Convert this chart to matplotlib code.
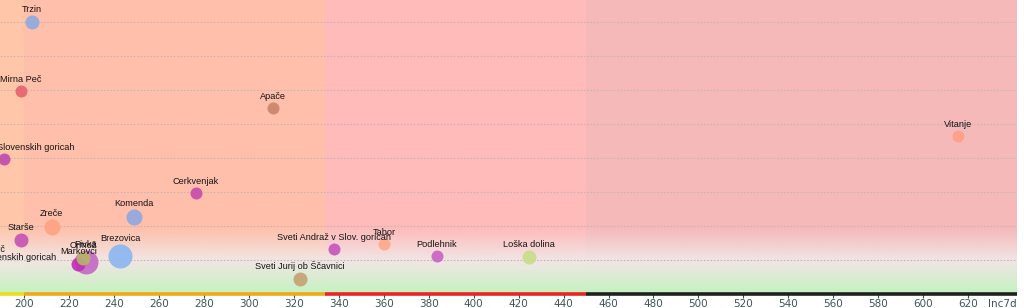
import numpy as np
import matplotlib
matplotlib.use("Agg")
import matplotlib.pyplot as plt
import matplotlib.colors as mcolors
from matplotlib.transforms import blended_transform_factory

# ---- data ----
names = ["Trzin", "Mirna Peč", "Apače", "Sveta Trojica v Slovenskih goricah",
         "Cerkvenjak", "Komenda", "Zreče", "Starše", "Brezovica",
         "Pivka", "Markovci", "Ormož", "Sveti Andraž v Slov. goricah",
         "Tabor", "Podlehnik", "Loška dolina", "Sveti Jurij ob Ščavnici",
         "Vitanje", "Sveti Jurij v Slovenskih goricah", "Zavrč"]
inc7d = [203.5, 198.6, 310.7, 191.0, 276.5, 248.9, 212.4, 198.6, 242.7,
         227.4, 224.2, 226.3, 337.9, 360.1, 383.7, 424.6, 322.8, 615.5, 185.8,
         186.6]
yval = [8.0, 5.97, 5.47, 3.97, 2.97, 2.26, 1.97, 1.59, 1.12,
        0.94, 0.88, 1.06, 1.32, 1.47, 1.12, 1.09, 0.44, 4.65, 0.75, 1.0]
radius_px = [7, 6, 6, 6, 6, 8, 8, 7, 12, 12, 7, 7, 6, 6, 6, 7, 7, 6, 6, 5]
colors = ["#8eaadf", "#e8606e", "#c98468", "#c04aaa", "#c64aac", "#8ea8e0",
          "#ffa283", "#c452b4", "#8ab6f2", "#c468c4", "#c030b4", "#b8b468",
          "#c654bc", "#ffa888", "#c862c4", "#c8dc88", "#c4a272", "#ffa084",
          "#c452b4", "#c452b4"]

xticks = list(range(200, 621, 20))
band_edges = [189.3, 200, 334, 450, 641.7]
band_colors = ["#ffc6aa", "#ffbfaa", "#ffbaba", "#f5b9b9"]
axis_colors = ["#ecdc1c", "#f0a818", "#e82424", "#202020"]

x_min, x_max = 189.3, 641.7
y_min, y_max = 0.0, 8.65

fig = plt.figure(figsize=(10.24, 3.08), dpi=100)
fig.patch.set_facecolor("white")
ax = fig.add_axes([0, 14 / 308, 1017 / 1024, 294 / 308])
ax.set_xlim(x_min, x_max)
ax.set_ylim(y_min, y_max)

# background bands
for i in range(len(band_colors)):
    ax.axvspan(band_edges[i], band_edges[i + 1], color=band_colors[i], lw=0, zorder=0)

# bottom gradient (pink -> near white -> green)
n = 256
top = 2.0
ys = np.linspace(0, top, n)
grad = np.zeros((n, 1, 4))
mid = np.array(mcolors.to_rgb("#f0ecec"))
green = np.array(mcolors.to_rgb("#c2f4be"))
for k, y in enumerate(ys):
    if y < 1.0:
        u = y / 1.0
        c = green * (1 - u) + mid * u
        a = 1.0 - 0.12 * u
    else:
        u = (y - 1.0) / (top - 1.0)
        c = mid
        a = 0.88 * (1 - u) ** 1.1
    grad[k, 0, :3] = c
    grad[k, 0, 3] = a
ax.imshow(grad, extent=[x_min, x_max, 0, top], origin="lower", aspect="auto",
          zorder=1, interpolation="bilinear")

# grid lines
for gy in range(1, 9):
    ax.axhline(gy, color="#c8b6b6", lw=0.8, ls=(0, (1.5, 1.5)), zorder=2)

# points
for nm, x, y, r, c in zip(names, inc7d, yval, radius_px, colors):
    s = (2 * r * 0.72) ** 2
    ax.scatter([x], [y], s=s, color=c, alpha=0.9, lw=0, zorder=3)
    ax.annotate(nm, (x, y), xytext=(0, r * 0.72 + 0.5), textcoords="offset points",
                ha="center", va="bottom", fontsize=6.6, color="#141414", zorder=4,
                family=["Liberation Sans", "DejaVu Sans"], annotation_clip=False)

# colored axis line
trans = blended_transform_factory(ax.transData, ax.transAxes)
for i in range(len(axis_colors)):
    ax.plot([band_edges[i], band_edges[i + 1]], [0, 0], color=axis_colors[i],
            lw=2.6, transform=trans, clip_on=False, zorder=5, solid_capstyle="butt")

for sp in ax.spines.values():
    sp.set_visible(False)
ax.set_yticks([])
ax.set_xticks(xticks)
ax.set_xticklabels([str(t) for t in xticks])
ax.tick_params(axis="x", length=3, width=0.8, color="#404848", labelsize=7.5,
               labelcolor="#3c5656", pad=0.5)
ax.text(0.9995, -0.0165, "Inc7d", transform=ax.transAxes, ha="right", va="top",
        fontsize=7.5, color="#3c5656")

fig.savefig("out.png", dpi=100, facecolor="white")
